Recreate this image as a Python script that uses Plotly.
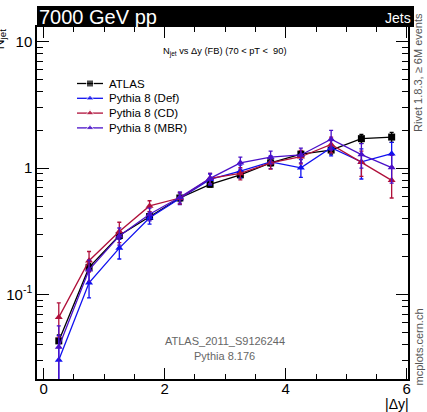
import plotly.graph_objects as go

x_centers = [0.25, 0.75, 1.25, 1.75, 2.25, 2.75, 3.25, 3.75, 4.25, 4.75, 5.25, 5.75]

atlas_y = [0.043, 0.164, 0.293, 0.414, 0.580, 0.744, 0.885, 1.10, 1.29, 1.39, 1.71, 1.76]
atlas_err = [0.005, 0.012, 0.018, 0.022, 0.028, 0.035, 0.045, 0.06, 0.08, 0.10, 0.14, 0.16]

def_y = [0.0304, 0.124, 0.233, 0.405, 0.575, 0.815, 0.947, 1.12, 1.005, 1.45, 1.12, 1.30]
def_err = [0.017, 0.030, 0.042, 0.045, 0.06, 0.08, 0.11, 0.13, 0.16, 0.20, 0.30, 0.30]

cd_y = [0.066, 0.185, 0.315, 0.502, 0.580, 0.83, 0.908, 1.10, 1.23, 1.54, 1.11, 0.80]
cd_err = [0.020, 0.034, 0.058, 0.05, 0.06, 0.08, 0.10, 0.12, 0.15, 0.22, 0.25, 0.22]

mbr_y = [0.0385, 0.157, 0.291, 0.432, 0.588, 0.83, 1.10, 1.22, 1.27, 1.69, 1.28, 1.01]
mbr_err = [0.018, 0.030, 0.045, 0.05, 0.06, 0.08, 0.12, 0.14, 0.17, 0.30, 0.28, 0.25]

series_names = ["ATLAS", "Pythia 8 (Def)", "Pythia 8 (CD)", "Pythia 8 (MBR)"]
series_vals = [atlas_y, def_y, cd_y, mbr_y]
series_errs = [atlas_err, def_err, cd_err, mbr_err]
colors = ["#000000", "#1010f0", "#b0103a", "#4a10c8"]
symbols = ["square", "triangle-up", "triangle-up", "triangle-up"]
sizes = [7, 7, 7, 7]

W, H = 427, 412
L, R, T, B = 37, 19, 27, 33
PW, PH = W - L - R, H - T - B

fig = go.Figure()
for name, ys, errs, col, sym, sz in zip(series_names, series_vals, series_errs, colors, symbols, sizes):
    fig.add_trace(go.Scatter(
        x=x_centers, y=ys, name=name, mode="lines+markers", showlegend=False,
        line=dict(color=col, width=1.3),
        marker=dict(color=col, symbol=sym, size=sz),
        error_y=dict(type="data", array=errs, color=col, thickness=1.3, width=2),
    ))

# manual legend (pixel coordinates on an overlay axis)
leg_y0, leg_dy = 83.5, 14.8
for i, (name, col, sym, sz) in enumerate(zip(series_names, colors, symbols, sizes)):
    yy = leg_y0 + i * leg_dy
    fig.add_trace(go.Scatter(
        x=[77, 90, 103], y=[yy, yy, yy], mode="lines+markers", showlegend=False,
        xaxis="x2", yaxis="y2", hoverinfo="skip",
        line=dict(color=col, width=1.3),
        marker=dict(color=col, symbol=sym, size=[0, sz, 0]),
    ))
    fig.add_annotation(xref="x2", yref="y2", x=107, y=yy, text=name, showarrow=False,
                       xanchor="left", yanchor="middle", font=dict(size=11.5))

fig.update_layout(
    width=W, height=H,
    margin=dict(l=L, r=R, t=T, b=B),
    paper_bgcolor="white", plot_bgcolor="white",
    font=dict(family="Liberation Sans, Arial, sans-serif", color="black"),
    showlegend=False,
    xaxis=dict(range=[-0.11, 6.02], showgrid=False, zeroline=False, automargin=False,
               showline=True, linecolor="black", linewidth=1.5, mirror="ticks",
               ticks="inside", ticklen=11, tickcolor="black", tickwidth=1.3,
               tickvals=[0, 2, 4, 6], tickfont=dict(size=15), ticklabelstandoff=-5,
               minor=dict(dtick=0.5, tick0=0, ticks="inside", ticklen=5,
                          tickcolor="black", tickwidth=1, showgrid=False)),
    yaxis=dict(type="log", range=[-1.668, 1.116], showgrid=False, zeroline=False, automargin=False,
               showline=True, linecolor="black", linewidth=1.5, mirror="ticks",
               ticks="inside", ticklen=12, tickcolor="black", tickwidth=1.3,
               tickvals=[0.1, 1, 10], ticktext=["10<sup>-1</sup>", "1", "10"],
               tickfont=dict(size=15),
               minor=dict(dtick="D1", ticks="inside", ticklen=6,
                          tickcolor="black", tickwidth=1, showgrid=False)),
    xaxis2=dict(range=[L, W - R], overlaying="x", visible=False, automargin=False,
                fixedrange=True),
    yaxis2=dict(range=[H - B, T], overlaying="y", visible=False, automargin=False,
                fixedrange=True),
)

def px_x(px):
    return (px - L) / PW

def px_y(py):
    return (H - B - py) / PH

# header bar
fig.add_shape(type="rect", xref="paper", yref="paper", x0=0, x1=px_x(414),
              y0=px_y(27), y1=px_y(6), fillcolor="black", line=dict(width=0), layer="above")
fig.add_annotation(xref="paper", yref="paper", x=0.0, y=px_y(17),
                   text="7000 GeV pp", showarrow=False, xanchor="left", yanchor="middle",
                   font=dict(size=20, color="white"), xshift=0)
fig.add_annotation(xref="paper", yref="paper", x=px_x(414), y=px_y(18.5),
                   text="Jets", showarrow=False, xanchor="right", yanchor="middle",
                   font=dict(size=14, color="white"), xshift=-1)

# title inside plot
fig.add_annotation(xref="paper", yref="paper", x=px_x(224), y=px_y(52),
                   text="N<sub>jet</sub> vs Δy (FB) (70 < pT <  90)", showarrow=False,
                   xanchor="center", yanchor="middle", font=dict(size=9.3))

# bottom info
fig.add_annotation(xref="paper", yref="paper", x=px_x(225), y=px_y(341),
                   text="ATLAS_2011_S9126244", showarrow=False,
                   xanchor="center", yanchor="middle", font=dict(size=11, color="#666666"))
fig.add_annotation(xref="paper", yref="paper", x=px_x(224), y=px_y(356),
                   text="Pythia 8.176", showarrow=False,
                   xanchor="center", yanchor="middle", font=dict(size=11, color="#666666"))

# axis titles
fig.add_annotation(xref="paper", yref="paper", x=px_x(411), y=px_y(404),
                   text="|Δy|", showarrow=False, xanchor="right", yanchor="middle",
                   font=dict(size=14))
fig.add_annotation(xref="paper", yref="paper", x=px_x(-1), y=px_y(27),
                   text="N<sub>jet</sub>", textangle=-90, showarrow=False,
                   xanchor="center", yanchor="top", font=dict(size=14))

# right side notes
fig.add_annotation(xref="paper", yref="paper", x=px_x(418), y=px_y(73),
                   text="Rivet 1.8.3, ≥ 6M events", textangle=-90, showarrow=False,
                   xanchor="center", yanchor="middle", font=dict(size=11, color="#555555"))
fig.add_annotation(xref="paper", yref="paper", x=px_x(418), y=px_y(388),
                   text="mcplots.cern.ch", textangle=-90, showarrow=False,
                   xanchor="center", yanchor="bottom", font=dict(size=11, color="#555555"))

fig.write_html("out.html")
